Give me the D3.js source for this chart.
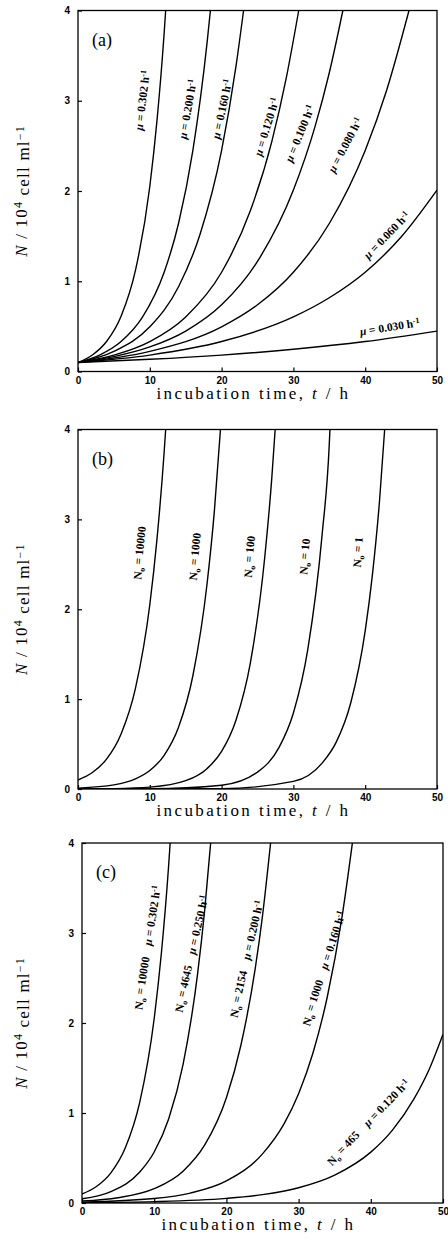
<!DOCTYPE html>
<html>
<head>
<meta charset="utf-8">
<script src="https://cdn.jsdelivr.net/npm/d3@7"></script>
<style>
  body { margin: 0; background: #fff; }
  svg { display: block; }
</style>
</head>
<body>
<svg id="chart" width="448" height="1248"></svg>
<script>
// ticks
const tTicks = [0, 10, 20, 30, 40, 50];
const nTicks = [0, 1, 2, 3, 4];

// (a) same N0, different growth rates (t in h, N in 10^4 cell/ml)
const muA = ['0.302', '0.200', '0.160', '0.120', '0.100', '0.080', '0.060', '0.030'];
const curvesA = [
  [[0, 0.1], [2, 0.183], [4, 0.335], [6, 0.613], [8, 1.12], [10, 2.05], [11, 2.78], [12, 3.75], [12.21, 4]],
  [[0, 0.1], [3, 0.182], [6, 0.332], [9, 0.605], [12, 1.10], [14, 1.64], [16, 2.45], [18, 3.66], [18.44, 4]],
  [[0, 0.1], [5, 0.223], [10, 0.495], [14, 0.939], [17, 1.52], [20, 2.45], [22, 3.38], [23.06, 4]],
  [[0, 0.1], [5, 0.182], [10, 0.332], [15, 0.605], [20, 1.10], [24, 1.78], [27, 2.55], [29, 3.25], [30.74, 4]],
  [[0, 0.1], [5, 0.165], [10, 0.272], [15, 0.448], [20, 0.739], [25, 1.22], [30, 2.01], [33, 2.71], [35, 3.31], [36.89, 4]],
  [[0, 0.1], [10, 0.223], [20, 0.495], [25, 0.739], [30, 1.10], [35, 1.64], [40, 2.45], [43, 3.12], [46.1, 4]],
  [[0, 0.1], [10, 0.182], [20, 0.332], [30, 0.605], [35, 0.817], [40, 1.10], [45, 1.49], [50, 2.01]],
  [[0, 0.1], [10, 0.135], [20, 0.182], [30, 0.246], [40, 0.332], [50, 0.448]]
];
// label anchor (t, N) and text angle for each curve of (a)
const labelPosA = [[9.5, 3.0, -83], [15.8, 2.9, -80], [20.6, 2.9, -78], [26.8, 2.7, -73],
                   [31.4, 2.62, -68], [37.7, 2.49, -62], [43.4, 1.48, -46], [43.5, 0.45, -9]];

// (b) same growth rate, different N0
const n0B = ['10000', '1000', '100', '10', '1'];
const curvesB = [
  [[0, 0.1], [2, 0.183], [4, 0.335], [6, 0.613], [8, 1.12], [10, 2.05], [11, 2.78], [12, 3.75], [12.21, 4]],
  [[0, 0.01], [5, 0.0453], [8, 0.112], [10, 0.205], [12, 0.375], [14, 0.687], [16, 1.26], [18, 2.30], [19, 3.10], [19.84, 4]],
  [[0, 0.001], [5, 0.00453], [10, 0.0205], [15, 0.0928], [18, 0.229], [20, 0.418], [22, 0.765], [24, 1.40], [26, 2.57], [27, 3.47], [27.46, 4]],
  [[0, 0.0001], [10, 0.00205], [20, 0.042], [25, 0.188], [28, 0.463], [30, 0.846], [32, 1.55], [34, 2.83], [35, 3.84], [35.09, 4]],
  [[0, 0.00001], [20, 0.0042], [30, 0.0846], [34, 0.288], [36, 0.527], [38, 0.963], [40, 1.76], [41, 2.38], [42, 3.21], [42.71, 4]]
];
const labelPosB = [[9.2, 2.62, -84], [16.9, 2.58, -84], [24.5, 2.58, -84], [32.2, 2.58, -84], [39.6, 2.63, -84]];

// (c) N0 and growth rate both changed
const n0C = ['10000', '4645', '2154', '1000', '465'];
const muC = ['0.302', '0.250', '0.200', '0.160', '0.120'];
const curvesC = [
  [[0, 0.1], [2, 0.183], [4, 0.335], [6, 0.613], [8, 1.12], [10, 2.05], [11, 2.78], [12, 3.75], [12.21, 4]],
  [[0, 0.0465], [4, 0.126], [8, 0.344], [10, 0.567], [12, 0.934], [14, 1.54], [16, 2.54], [17, 3.26], [17.82, 4]],
  [[0, 0.0215], [5, 0.0586], [10, 0.159], [14, 0.354], [17, 0.645], [20, 1.17], [22, 1.75], [24, 2.61], [25, 3.19], [26.12, 4]],
  [[0, 0.01], [10, 0.0495], [15, 0.110], [20, 0.245], [25, 0.546], [28, 0.882], [30, 1.215], [32, 1.67], [34, 2.30], [36, 3.17], [37.45, 4]],
  [[0, 0.00465], [10, 0.0154], [20, 0.0512], [25, 0.0934], [30, 0.170], [35, 0.310], [40, 0.565], [43, 0.810], [46, 1.16], [48, 1.47], [50, 1.876]]
];
const labelPosC = [[9.7, 2.83, -81], [15.8, 2.76, -77], [23.4, 2.7, -77], [34.1, 2.59, -72], [40.1, 0.86, -46]];

const svg = d3.select('#chart');
const serif = '"Liberation Serif", "Times New Roman", serif';

const panels = [
  { tag: '(a)', box: { l: 78, r: 437, t: 10.5, b: 371.5 }, curves: curvesA, pos: labelPosA,
    label: i => [{ s: 'μ', it: true }, { s: ' = ' + muA[i] + ' h' }, { s: '-1', sup: true }] },
  { tag: '(b)', box: { l: 78, r: 437, t: 429.5, b: 789 }, curves: curvesB, pos: labelPosB,
    label: i => [{ s: 'N' }, { s: 'o', sub: true }, { s: ' = ' + n0B[i] }] },
  { tag: '(c)', box: { l: 82, r: 443, t: 843, b: 1203 }, curves: curvesC, pos: labelPosC,
    label: i => [{ s: 'N' }, { s: 'o', sub: true }, { s: ' = ' + n0C[i] + '\u2002\u2002' },
                 { s: 'μ', it: true }, { s: ' = ' + muC[i] + ' h' }, { s: '-1', sup: true }] }
];

// write text parts as tspans (sub/superscripts)
function writeParts(text, parts) {
  let shift = 0;
  parts.forEach(p => {
    const want = p.sup ? -0.45 : p.sub ? 0.3 : 0;
    const ts = text.append('tspan').text(p.s).attr('dy', (want - shift) + 'em');
    if (p.sup || p.sub) ts.attr('font-size', '70%');
    if (p.it) ts.attr('font-style', 'italic');
    shift = want;
  });
}

panels.forEach((p, k) => {
  const { l, r, t, b } = p.box;
  const x = d3.scaleLinear().domain([0, 50]).range([l, r]);
  const y = d3.scaleLinear().domain([0, 4]).range([b, t]);
  const g = svg.append('g');

  g.append('clipPath').attr('id', 'clip' + k)
    .append('rect').attr('x', l).attr('y', t).attr('width', r - l).attr('height', b - t);

  // axes, ticks pointing in
  const ax = g.append('g').attr('transform', `translate(0,${b})`)
    .call(d3.axisBottom(x).tickValues(tTicks).tickFormat(d3.format('d'))
      .tickSizeInner(-4).tickSizeOuter(0).tickPadding(5));
  const ay = g.append('g').attr('transform', `translate(${l},0)`)
    .call(d3.axisLeft(y).tickValues(nTicks).tickFormat(d3.format('d'))
      .tickSizeInner(-4).tickSizeOuter(0).tickPadding(8));
  [ax, ay].forEach(a => {
    a.select('.domain').remove();
    a.selectAll('line').attr('stroke', '#000').attr('stroke-width', 1.2);
    a.selectAll('text').attr('font-family', '"Liberation Sans", Arial, sans-serif')
      .attr('font-weight', 'bold').attr('font-size', 10).attr('fill', '#000');
  });

  g.append('rect').attr('x', l).attr('y', t).attr('width', r - l).attr('height', b - t)
    .attr('fill', 'none').attr('stroke', '#000').attr('stroke-width', 1.3);

  const line = d3.line().x(d => x(d[0])).y(d => y(d[1])).curve(d3.curveMonotoneX);
  g.append('g').attr('clip-path', `url(#clip${k})`)
    .selectAll('path').data(p.curves).join('path')
    .attr('d', line).attr('fill', 'none').attr('stroke', '#000').attr('stroke-width', 1.4);

  // curve labels
  p.pos.forEach((q, i) => {
    const tx = g.append('text')
      .attr('transform', `translate(${x(q[0])},${y(q[1])}) rotate(${q[2]})`)
      .attr('text-anchor', 'middle').attr('dy', '0.35em')
      .attr('font-family', serif).attr('font-size', 11.5).attr('font-weight', 'bold')
      .attr('fill', '#000');
    writeParts(tx, p.label(i));
  });

  // panel tag
  g.append('text').attr('x', l + 14).attr('y', t + 35)
    .attr('font-family', serif).attr('font-size', 18).text(p.tag);

  // x title
  const xt = g.append('text').attr('x', (l + r) / 2 - 4).attr('y', b + 27)
    .attr('text-anchor', 'middle').attr('font-family', serif).attr('font-size', 17)
    .attr('letter-spacing', 2.4);
  writeParts(xt, [{ s: 'incubation time, ' }, { s: 't', it: true }, { s: ' / h' }]);

  // y title
  const yt = g.append('text')
    .attr('transform', `translate(27,${(t + b) / 2}) rotate(-90)`)
    .attr('text-anchor', 'middle').attr('font-family', serif).attr('font-size', 17)
    .attr('letter-spacing', 1.2);
  writeParts(yt, [{ s: 'N', it: true }, { s: ' / 10' }, { s: '4', sup: true }, { s: ' cell ml' }, { s: '−1', sup: true }]);
});
</script>
</body>
</html>
